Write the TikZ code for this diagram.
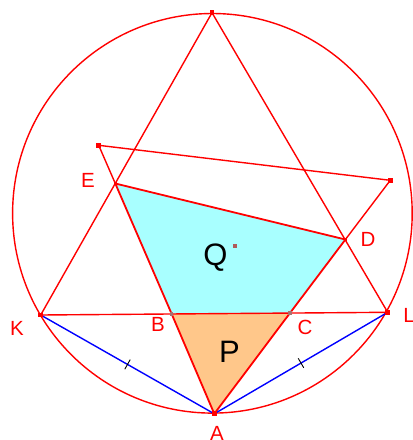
\documentclass[tikz,border=0pt]{standalone}
\usepackage{fontspec}
\setmainfont{Liberation Sans}
\usepackage{tikz}
\usetikzlibrary{calc}
\definecolor{LineRed}{HTML}{FF0000}
\definecolor{SideBlue}{HTML}{0000FF}
\definecolor{QuadCyan}{HTML}{A8FFFF}
\definecolor{TriOrange}{HTML}{FFC78A}
\definecolor{CentreBrown}{HTML}{B05A5A}
\definecolor{FootGrey}{HTML}{A87070}
\tikzset{
  redline/.style={draw=LineRed,line width=1.4pt},
  edgeline/.style={draw=LineRed,line width=1.8pt},
  blueline/.style={draw=SideBlue,line width=1.4pt},
  marksq/.style={fill=LineRed,minimum size=4.8pt,inner sep=0pt},
  smallsq/.style={fill=#1,minimum size=3.4pt,inner sep=0pt},
  ptlabel/.style={text=LineRed,font=\fontsize{20.5}{24}\selectfont},
  biglabel/.style={text=black,font=\fontsize{31}{36}\selectfont}
}

\begin{document}
\begin{tikzpicture}[x=1pt,y=-1pt]
\useasboundingbox (0,0) rectangle (413,440);
\coordinate (O) at (212.4,213.3);
\coordinate (T) at (212,12.7);
\coordinate (K) at (40.7,315);
\coordinate (L) at (387.7,312.3);
\coordinate (A) at (214.3,413.8);
\coordinate (E) at (115.3,183.5);
\coordinate (D) at (345.4,239.5);
\coordinate (B) at (171.7,314.0);
\coordinate (C) at (290,313.0);
\coordinate (F) at (98.7,145.3);
\coordinate (G) at (390.3,180.3);
\coordinate (M) at (235,246);
\coordinate (mKA) at ($(K)!0.5!(A)$);
\coordinate (mLA) at ($(L)!0.5!(A)$);

\fill[QuadCyan] (E) -- (D) -- (C) -- (B) -- cycle;
\fill[TriOrange] (B) -- (C) -- (A) -- cycle;

\draw[redline] (O) circle[radius=199.8pt];
\draw[redline] (T) -- (K) -- (L) -- cycle;
\draw[redline] (F) -- (G) -- (D);
\draw[redline] (F) -- (E);
\draw[edgeline] (E) -- (B) -- (A) -- (C) -- (D) -- (E);
\draw[blueline] (K) -- (A) -- (L);

\draw[black,line width=0.9pt] ($(mKA)!5.5pt!90:(A)$) -- ($(mKA)!5.5pt!-90:(A)$);
\draw[black,line width=0.9pt] ($(mLA)!5.5pt!90:(A)$) -- ($(mLA)!5.5pt!-90:(A)$);

\node[marksq] (T-mark) at (T) {};
\node[marksq] (F-mark) at (F) {};
\node[marksq] (G-mark) at (G) {};
\node[marksq] (K-mark) at (K) {};
\node[marksq] (L-mark) at (L) {};
\node[marksq] (A-mark) at (A) {};
\node[smallsq=LineRed] (E-mark) at (E) {};
\node[smallsq=LineRed] (D-mark) at (D) {};
\node[smallsq=FootGrey] (B-mark) at (B) {};
\node[smallsq=FootGrey] (C-mark) at (C) {};
\node[fill=CentreBrown,minimum size=4.6pt,inner sep=0pt] (M-mark) at (M) {};

\node[ptlabel] (E-label) at (88,180) {E};
\node[ptlabel] (D-label) at (368,239) {D};
\node[ptlabel] (K-label) at (17,328) {K};
\node[ptlabel] (B-label) at (158,324.5) {B};
\node[ptlabel] (C-label) at (305,327.5) {C};
\node[ptlabel] (L-label) at (409,315) {L};
\node[ptlabel] (A-label) at (217,433.5) {A};
\node[biglabel] (Q-label) at (215.5,258) {Q};
\node[biglabel] (P-label) at (229.5,351.5) {P};
\end{tikzpicture}
\end{document}
